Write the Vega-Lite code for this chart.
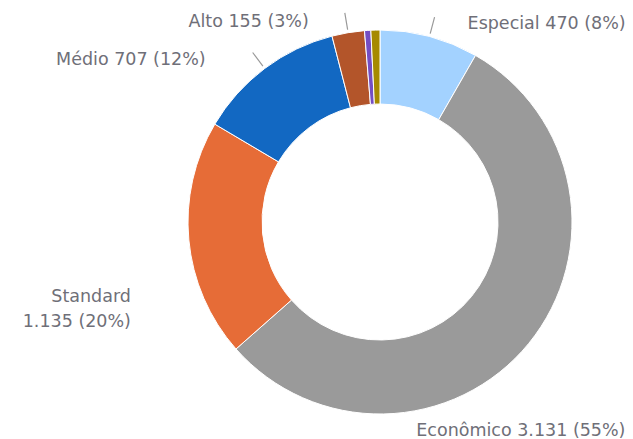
{
  "$schema": "https://vega.github.io/schema/vega-lite/v6.json",
  "width": 506,
  "height": 434,
  "autosize": {"type": "none"},
  "padding": {"left": 127, "top": 5, "right": 0, "bottom": 0},
  "background": "white",
  "config": {"view": {"stroke": null}},
  "data": {
    "values": [
      {"o": 1, "cat": "Especial", "value": 470, "label": "Especial 470 (8%)"},
      {"o": 2, "cat": "Econômico", "value": 3131, "label": "Econômico 3.131 (55%)"},
      {"o": 3, "cat": "Standard", "value": 1135, "label": "Standard\n1.135 (20%)"},
      {"o": 4, "cat": "Médio", "value": 707, "label": "Médio 707 (12%)"},
      {"o": 5, "cat": "Alto", "value": 155, "label": "Alto 155 (3%)"},
      {"o": 6, "cat": "Outro A", "value": 30, "label": ""},
      {"o": 7, "cat": "Outro B", "value": 43, "label": ""}
    ]
  },
  "transform": [
    {"stack": "value", "groupby": [], "sort": [{"field": "o", "order": "ascending"}], "as": ["s0", "s1"]},
    {"calculate": "(datum.s0 + datum.s1) / 2", "as": "mid"}
  ],
  "layer": [
    {
      "mark": {"type": "arc", "outerRadius": 192, "innerRadius": 118, "stroke": "white", "strokeWidth": 1},
      "encoding": {
        "theta": {"field": "s0", "type": "quantitative", "stack": null, "scale": {"domain": [0, 5671]}},
        "theta2": {"field": "s1"},
        "color": {
          "field": "cat", "type": "nominal", "legend": null,
          "scale": {
            "domain": ["Especial", "Econômico", "Standard", "Médio", "Alto", "Outro A", "Outro B"],
            "range": ["#A3D2FF", "#9A9A9A", "#E66C37", "#1268C2", "#B3552A", "#744EC2", "#A68A00"]
          }
        }
      }
    },
    {
      "transform": [{"filter": "indexof(['Especial','Alto','Médio'], datum.cat) >= 0"}],
      "mark": {"type": "arc", "innerRadius": 195, "outerRadius": 212, "stroke": "#9a9a9a", "strokeWidth": 1.2, "fill": "transparent"},
      "encoding": {
        "theta": {"field": "mid", "type": "quantitative", "stack": null},
        "theta2": {"field": "mid"}
      }
    },
    {
      "transform": [{"filter": "datum.cat == 'Especial'"}],
      "mark": {"type": "text", "radius": 212, "align": "left", "baseline": "middle", "dx": 33, "dy": 7, "font": "DejaVu Sans", "fontSize": 17.5, "fill": "#6f6f78"},
      "encoding": {"theta": {"field": "mid", "type": "quantitative", "stack": null}, "text": {"field": "label"}}
    },
    {
      "transform": [{"filter": "datum.cat == 'Alto'"}],
      "mark": {"type": "text", "radius": 212, "align": "right", "baseline": "middle", "dx": -36, "dy": 9, "font": "DejaVu Sans", "fontSize": 17.5, "fill": "#6f6f78"},
      "encoding": {"theta": {"field": "mid", "type": "quantitative", "stack": null}, "text": {"field": "label"}}
    },
    {
      "transform": [{"filter": "datum.cat == 'Médio'"}],
      "mark": {"type": "text", "radius": 212, "align": "right", "baseline": "middle", "dx": -47, "dy": 8, "font": "DejaVu Sans", "fontSize": 17.5, "fill": "#6f6f78"},
      "encoding": {"theta": {"field": "mid", "type": "quantitative", "stack": null}, "text": {"field": "label"}}
    },
    {
      "transform": [{"filter": "datum.cat == 'Standard'"}],
      "mark": {"type": "text", "radius": 212, "align": "right", "baseline": "middle", "dx": -38, "dy": 55, "lineBreak": "\n", "lineHeight": 25, "font": "DejaVu Sans", "fontSize": 17.5, "fill": "#6f6f78"},
      "encoding": {"theta": {"field": "mid", "type": "quantitative", "stack": null}, "text": {"field": "label"}}
    },
    {
      "transform": [{"filter": "datum.cat == 'Econômico'"}],
      "mark": {"type": "text", "radius": 212, "align": "left", "baseline": "middle", "dx": -128, "dy": 75, "font": "DejaVu Sans", "fontSize": 17.5, "fill": "#6f6f78"},
      "encoding": {"theta": {"field": "mid", "type": "quantitative", "stack": null}, "text": {"field": "label"}}
    }
  ]
}
